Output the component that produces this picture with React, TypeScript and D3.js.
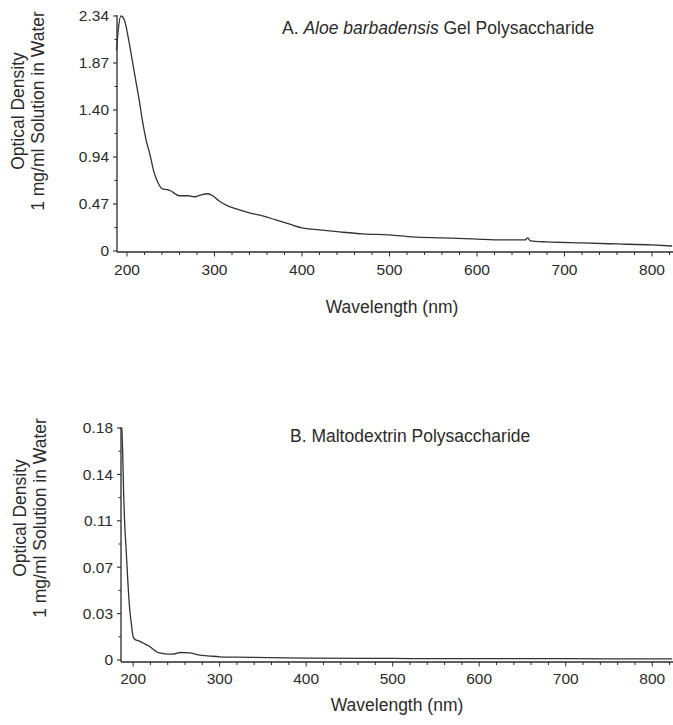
import React from 'react';
import * as d3 from 'd3';

// ---- Data ----
const wavelengthA = [188, 190, 193, 197, 202, 206, 210, 214, 218, 222, 226, 231, 236, 240, 246, 250, 255, 260, 270, 278, 285, 292, 298, 305, 315, 325, 340, 355, 370, 385, 400, 420, 443, 470, 500, 526, 560, 595, 630, 655, 658, 661, 680, 720, 760, 800, 823];
const odA = [2.0, 2.2, 2.34, 2.3, 2.1, 1.9, 1.7, 1.5, 1.28, 1.1, 0.97, 0.78, 0.67, 0.62, 0.61, 0.6, 0.57, 0.55, 0.55, 0.54, 0.56, 0.57, 0.55, 0.5, 0.45, 0.42, 0.38, 0.35, 0.31, 0.27, 0.23, 0.21, 0.19, 0.17, 0.16, 0.14, 0.13, 0.12, 0.11, 0.11, 0.13, 0.1, 0.09, 0.08, 0.07, 0.06, 0.05];

const wavelengthB = [187, 188, 189, 190, 192, 194, 196, 198, 200, 202, 206, 212, 218, 222, 228, 235, 245, 255, 265, 275, 290, 300, 320, 340, 400, 500, 600, 700, 800, 823];
const odB = [0.18, 0.16, 0.13, 0.11, 0.085, 0.06, 0.04, 0.028, 0.018, 0.016, 0.015, 0.013, 0.011, 0.009, 0.006, 0.005, 0.0045, 0.0058, 0.0055, 0.004, 0.003, 0.0025, 0.0022, 0.002, 0.0015, 0.0012, 0.001, 0.001, 0.0008, 0.0008];

const xTickValues = [200, 300, 400, 500, 600, 700, 800];
const xTickLabels = ['200', '300', '400', '500', '600', '700', '800'];

const yTickValuesA = [0, 0.468, 0.936, 1.404, 1.872, 2.34];
const yTickLabelsA = ['0', '0.47', '0.94', '1.40', '1.87', '2.34'];
const yTickValuesB = [0, 0.036, 0.072, 0.108, 0.144, 0.18];
const yTickLabelsB = ['0', '0.03', '0.07', '0.11', '0.14', '0.18'];

const yTitleLines = ['Optical Density', '1 mg/ml Solution in Water'];
const xTitle = 'Wavelength (nm)';

const FONT = "'Liberation Sans', Arial, Helvetica, sans-serif";
const INK = '#2b2b2b';
const TITLE_SIZE = 17.5;
const TICK_SIZE = 15.5;

type PanelProps = {
  xs: number[];
  ys: number[];
  xDomain: [number, number];
  xRange: [number, number];
  yDomain: [number, number];
  yRange: [number, number];
  axisY: number;
  yTicks: number[];
  yLabels: string[];
  xLabelY: number;
  xTitleX: number;
  xTitleY: number;
  yTitleCenter: number;
  yTitleX: [number, number];
  title: React.ReactNode;
};

function Panel(p: PanelProps) {
  const x = d3.scaleLinear().domain(p.xDomain).range(p.xRange);
  const y = d3.scaleLinear().domain(p.yDomain).range(p.yRange);
  const line = d3
    .line<number>()
    .x((_, i) => x(p.xs[i]))
    .y((d) => y(d))
    .curve(d3.curveMonotoneX);
  const axisX = p.xRange[0];
  const minorX = d3.range(200, 821, 20);
  const step = p.yTicks[1] - p.yTicks[0];
  const minorY = p.yTicks.slice(0, -1).map((t) => t + step / 2);
  return (
    <g>
      {/* axes */}
      <line x1={axisX} x2={axisX} y1={y(p.yDomain[1]) - 1} y2={p.axisY} stroke={INK} strokeWidth={1.3} />
      <line x1={axisX} x2={p.xRange[1]} y1={p.axisY} y2={p.axisY} stroke={INK} strokeWidth={1.3} />
      {p.yTicks.map((t, i) => (
        <g key={'yt' + i}>
          <line x1={axisX - 4} x2={axisX} y1={y(t)} y2={y(t)} stroke={INK} strokeWidth={1.1} />
          <text x={axisX - 8} y={y(t)} dy="0.35em" textAnchor="end" fontSize={TICK_SIZE} fill={INK} fontFamily={FONT}>
            {p.yLabels[i]}
          </text>
        </g>
      ))}
      {minorY.map((t, i) => (
        <line key={'ym' + i} x1={axisX - 2.5} x2={axisX} y1={y(t)} y2={y(t)} stroke={INK} strokeWidth={1} />
      ))}
      {minorX.map((t, i) => (
        <line key={'xm' + i} x1={x(t)} x2={x(t)} y1={p.axisY} y2={p.axisY + (t % 100 === 0 ? 4.5 : 3)} stroke={INK} strokeWidth={1} />
      ))}
      {xTickValues.map((t, i) => (
        <text key={'xt' + i} x={x(t)} y={p.xLabelY} dy="0.35em" textAnchor="middle" fontSize={TICK_SIZE} fill={INK} fontFamily={FONT}>
          {xTickLabels[i]}
        </text>
      ))}
      {/* curve */}
      <path d={line(p.ys) || ''} fill="none" stroke="#333" strokeWidth={1.3} strokeLinejoin="round" />
      {/* titles */}
      <text x={p.xTitleX} y={p.xTitleY} textAnchor="middle" fontSize={TITLE_SIZE} fill={INK} fontFamily={FONT}>
        {xTitle}
      </text>
      {yTitleLines.map((s, i) => (
        <text
          key={'ytl' + i}
          transform={`translate(${p.yTitleX[i]},${p.yTitleCenter}) rotate(-90)`}
          textAnchor="middle"
          fontSize={TITLE_SIZE}
          fill={INK}
          fontFamily={FONT}
        >
          {s}
        </text>
      ))}
      {p.title}
    </g>
  );
}

export default function App() {
  return (
    <svg
      width={673}
      height={725}
      viewBox="0 0 673 725"
      style={{ position: 'absolute', left: 0, top: 0, background: '#fff' }}
    >
      <rect width={673} height={725} fill="#fff" />
      <Panel
        xs={wavelengthA}
        ys={odA}
        xDomain={[188.6, 824]}
        xRange={[117, 673]}
        yDomain={[0, 2.34]}
        yRange={[251, 16]}
        axisY={252}
        yTicks={yTickValuesA}
        yLabels={yTickLabelsA}
        xLabelY={270}
        xTitleX={392}
        xTitleY={313}
        yTitleCenter={111}
        yTitleX={[24, 44]}
        title={
          <text x={282} y={34} fontSize={TITLE_SIZE} fill={INK} fontFamily={FONT}>
            <tspan>A. </tspan>
            <tspan fontStyle="italic">Aloe barbadensis</tspan>
            <tspan> Gel Polysaccharide</tspan>
          </text>
        }
      />
      <Panel
        xs={wavelengthB}
        ys={odB}
        xDomain={[186, 824]}
        xRange={[121, 673]}
        yDomain={[0, 0.18]}
        yRange={[660, 428]}
        axisY={662}
        yTicks={yTickValuesB}
        yLabels={yTickLabelsB}
        xLabelY={679}
        xTitleX={397}
        xTitleY={711}
        yTitleCenter={518}
        yTitleX={[26, 46]}
        title={
          <text x={290} y={442} fontSize={TITLE_SIZE} fill={INK} fontFamily={FONT}>
            B. Maltodextrin Polysaccharide
          </text>
        }
      />
    </svg>
  );
}
